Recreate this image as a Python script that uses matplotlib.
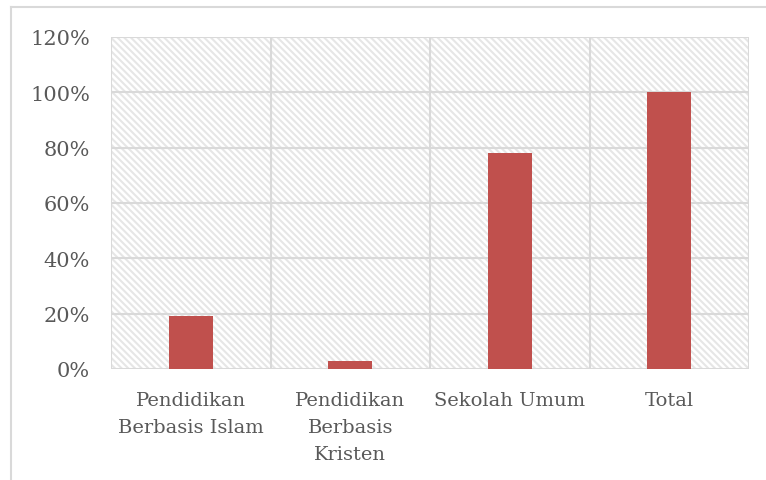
import numpy as np
import matplotlib.pyplot as plt
from matplotlib.ticker import PercentFormatter

# data
categories = ["Pendidikan\nBerbasis Islam", "Pendidikan\nBerbasis\nKristen", "Sekolah Umum", "Total"]
values = [0.19, 0.03, 0.78, 1.00]
yticks = [0, 0.2, 0.4, 0.6, 0.8, 1.0, 1.2]

bar_color = "#C0504D"
grid_color = "#D9D9D9"
text_color = "#595959"

plt.rcParams['font.family'] = ['DejaVu Serif']
plt.rcParams['hatch.color'] = "#E6E6E6"
plt.rcParams['hatch.linewidth'] = 1.5

fig = plt.figure(figsize=(7.66, 4.81), dpi=100)
ax = fig.add_axes([111 / 766, 111 / 481, 638 / 766, 332 / 481])

# outer chart border (top + left only visible)
fig.add_artist(plt.Line2D([11 / 766, 11 / 766], [0, 1 - 8 / 481], color=grid_color, lw=1.5,
                          transform=fig.transFigure))
fig.add_artist(plt.Line2D([11 / 766, 1], [1 - 8 / 481, 1 - 8 / 481], color=grid_color, lw=1.5,
                          transform=fig.transFigure))

# hatched plot background
ax.patch.set_facecolor("white")
ax.patch.set_hatch("\\\\\\\\\\")
ax.patch.set_edgecolor("#E6E6E6")

x = np.arange(len(categories))
ax.bar(x, values, width=0.275, color=bar_color, zorder=3)

ax.set_xlim(-0.5, len(categories) - 0.5)
ax.set_ylim(0, 1.2)
ax.set_yticks(yticks)
ax.yaxis.set_major_formatter(PercentFormatter(1.0, decimals=0))
ax.set_xticks(x)
ax.set_xticklabels(categories, fontsize=14, color=text_color, linespacing=1.65, va="top")
ax.tick_params(axis='y', labelsize=15, colors=text_color, length=0, pad=15)
ax.tick_params(axis='x', length=0, pad=16)

# grid: horizontal at y ticks, vertical at category boundaries
for yv in yticks:
    ax.axhline(yv, color=grid_color, lw=1.5, zorder=2)
for xb in np.arange(-0.5, len(categories), 1.0):
    ax.axvline(xb, color=grid_color, lw=1.5, zorder=2)

for s in ax.spines.values():
    s.set_visible(False)

fig.savefig("out.png", dpi=100)
